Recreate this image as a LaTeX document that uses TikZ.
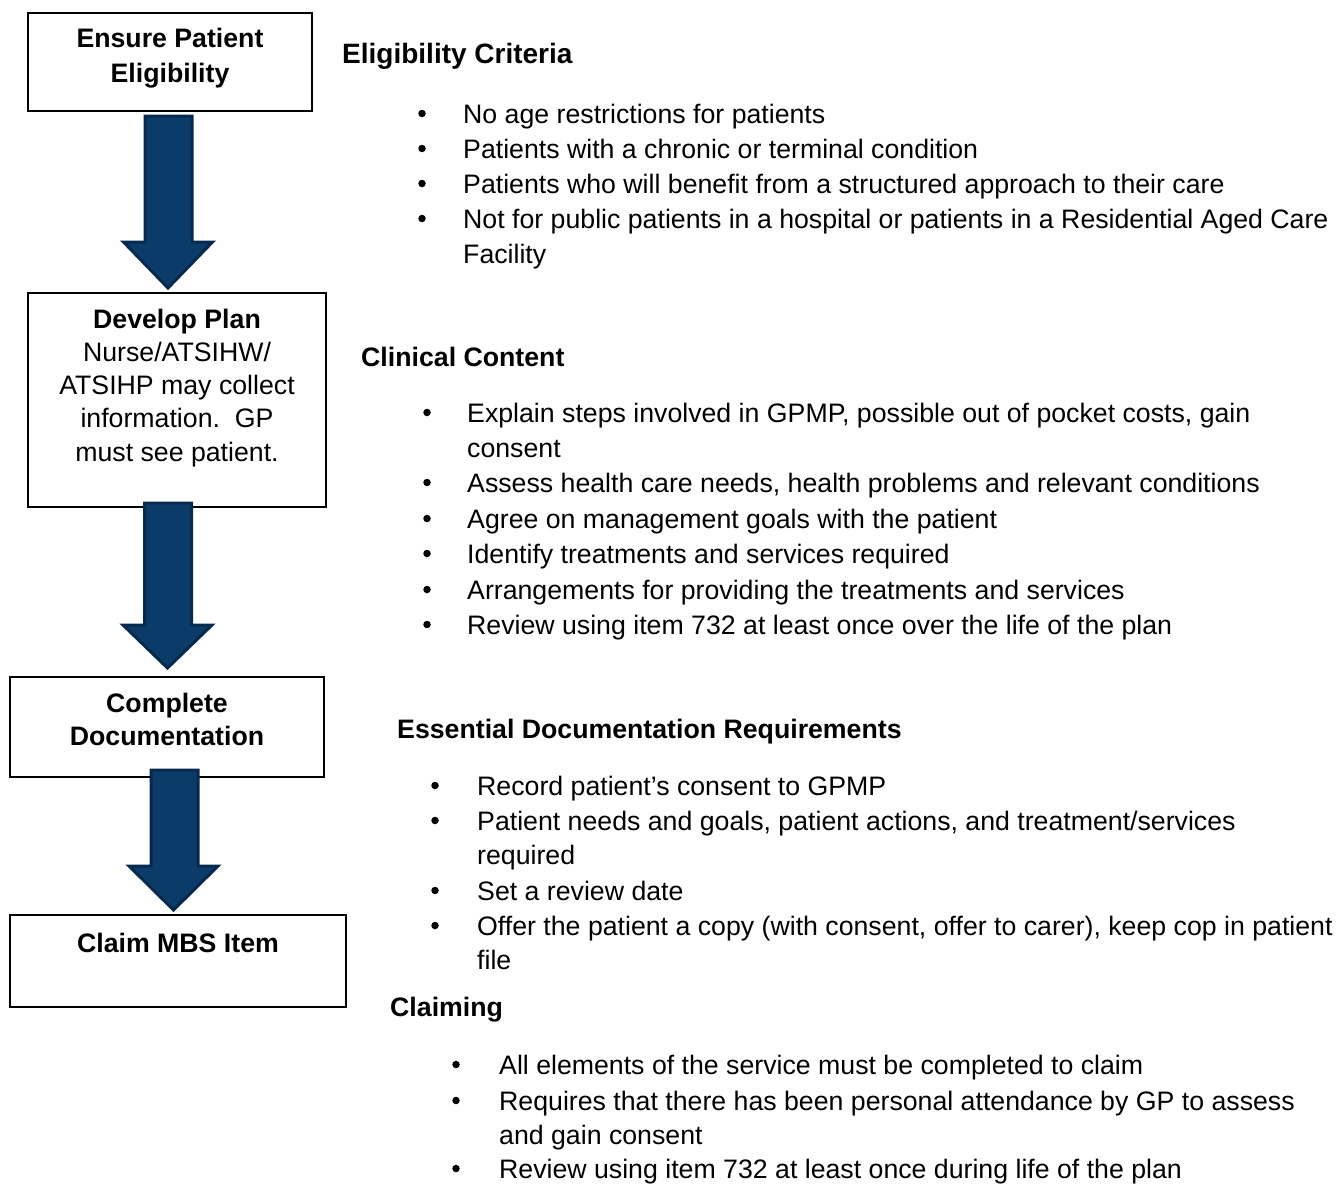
\documentclass[tikz,border=0pt]{standalone}
\usepackage{fontspec}
\setmainfont{Liberation Sans}
\usetikzlibrary{calc}
\definecolor{arrowfill}{HTML}{0B3B68}
\definecolor{arrowedge}{HTML}{062A4E}

% bullet item: name, bullet x, text x, baseline, text
\newcommand\bitem[5]{%
  \node[dot] (#1d) at (#2,#4-9.5) {};
  \node[txt, anchor=base west] (#1) at (#3,#4) {#5};}
% continuation line of a wrapped item: name, text x, baseline, text
\newcommand\bcont[4]{%
  \node[txt, anchor=base west] (#1) at (#2,#3) {#4};}
% block arrow from a start coordinate down to a tip coordinate
\newcommand\blockarrow[3]{%
  \draw[bigarrow] let \p1=(#1), \p2=(#2) in
    (\x1-23.5pt,\y1) -- (\x1+23.5pt,\y1) -- (\x1+23.5pt,\y2+#3) --
    (\x2+44.5pt,\y2+#3) -- (\x2,\y2) -- (\x2-44.5pt,\y2+#3) --
    (\x1-23.5pt,\y2+#3) -- cycle;}

\begin{document}
\begin{tikzpicture}[x=1pt,y=-1pt,
  txt/.style={inner sep=0pt, font=\fontsize{26.7}{33.3}\selectfont},
  head/.style={inner sep=0pt, anchor=base west, font=\fontsize{26.7}{33.3}\selectfont\bfseries},
  dot/.style={circle, fill=black, inner sep=0pt, minimum size=7.5pt},
  stepbox/.style={draw=black, line width=1.8pt, inner sep=0pt},
  bigarrow/.style={fill=arrowfill, draw=arrowedge, line width=3pt, line join=miter}]

\useasboundingbox (0,0) rectangle (1338,1183);

% process boxes
\node[stepbox, minimum width=284pt, minimum height=98pt]  (b1) at (170,62)  {};
\node[stepbox, minimum width=298pt, minimum height=214pt] (b2) at (177,400) {};
\node[stepbox, minimum width=314pt, minimum height=100pt] (b3) at (167,727) {};
\node[stepbox, minimum width=336pt, minimum height=92pt]  (b4) at (178,961) {};

\node[txt, anchor=base] (b1t) at (170,47)
  {\begin{tabular}[t]{@{}c@{}}\bfseries Ensure Patient\\[1.7pt]\bfseries Eligibility\end{tabular}};
\node[txt, anchor=base] (b2t) at (177,328)
  {\begin{tabular}[t]{@{}c@{}}\bfseries Develop Plan\\ Nurse/ATSIHW/\\ ATSIHP may collect\\ information.\ \ GP\\ must see patient.\end{tabular}};
\node[txt, anchor=base] (b3t) at (167,712)
  {\begin{tabular}[t]{@{}c@{}}\bfseries Complete\\\bfseries Documentation\end{tabular}};
\node[txt, anchor=base] (b4t) at (178,952) {\bfseries Claim MBS Item};

% arrows between the steps
\coordinate (a1s) at (168.5,116); \coordinate (a1e) at (168,288);
\coordinate (a2s) at (168,503);   \coordinate (a2e) at (167.5,668);
\coordinate (a3s) at (174.5,770); \coordinate (a3e) at (173.5,910);
\blockarrow{a1s}{a1e}{46}
\blockarrow{a2s}{a2e}{43}
\blockarrow{a3s}{a3e}{44}

% eligibility
\node[head, font=\fontsize{28}{34}\selectfont\bfseries] (h1) at (342,63) {Eligibility Criteria};
\bitem{e1}{422}{463}{123}{No age restrictions for patients}
\bitem{e2}{422}{463}{158}{Patients with a chronic or terminal condition}
\bitem{e3}{422}{463}{193}{Patients who will benefit from a structured approach to their care}
\bitem{e4}{422}{463}{228}{Not for public patients in a hospital or patients in a Residential Aged Care}
\bcont{e4b}{463}{263}{Facility}

% clinical content
\node[head] (h2) at (361,366) {Clinical Content};
\bitem{c1}{427}{467}{422}{Explain steps involved in GPMP, possible out of pocket costs, gain}
\bcont{c1b}{467}{457}{consent}
\bitem{c2}{427}{467}{492}{Assess health care needs, health problems and relevant conditions}
\bitem{c3}{427}{467}{528}{Agree on management goals with the patient}
\bitem{c4}{427}{467}{563}{Identify treatments and services required}
\bitem{c5}{427}{467}{599}{Arrangements for providing the treatments and services}
\bitem{c6}{427}{467}{634}{Review using item 732 at least once over the life of the plan}

% documentation
\node[head] (h3) at (397,738) {Essential Documentation Requirements};
\bitem{d1}{435}{477}{795}{Record patient’s consent to GPMP}
\bitem{d2}{435}{477}{830}{Patient needs and goals, patient actions, and treatment/services}
\bcont{d2b}{477}{864}{required}
\bitem{d3}{435}{477}{900}{Set a review date}
\bitem{d4}{435}{477}{935}{Offer the patient a copy (with consent, offer to carer), keep cop in patient}
\bcont{d4b}{477}{969}{file}

% claiming
\node[head] (h4) at (390,1016) {Claiming};
\bitem{k1}{456}{499}{1074}{All elements of the service must be completed to claim}
\bitem{k2}{456}{499}{1110}{Requires that there has been personal attendance by GP to assess}
\bcont{k2b}{499}{1144}{and gain consent}
\bitem{k3}{456}{499}{1178}{Review using item 732 at least once during life of the plan}

\end{tikzpicture}
\end{document}
